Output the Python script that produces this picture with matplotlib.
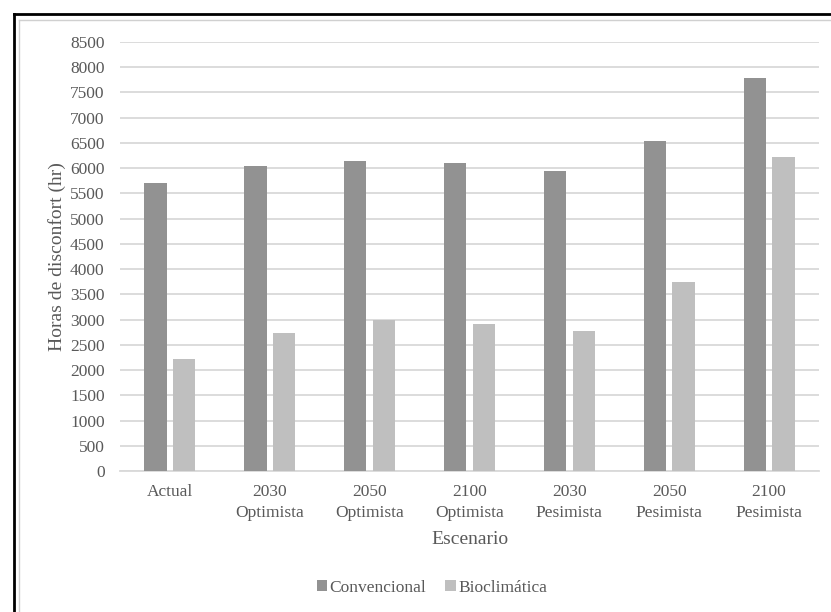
import matplotlib
matplotlib.use("Agg")
import matplotlib.pyplot as plt
import numpy as np
from matplotlib.patches import Patch
from matplotlib.lines import Line2D

categories = ["Actual", "2030\nOptimista", "2050\nOptimista", "2100\nOptimista",
              "2030\nPesimista", "2050\nPesimista", "2100\nPesimista"]
convencional = [5700, 6050, 6150, 6100, 5950, 6530, 7780]
bioclimatica = [2220, 2730, 3000, 2910, 2780, 3750, 6220]
series_names = ["Convencional", "Bioclimática"]
yticks = list(range(0, 8501, 500))

plt.rcParams['font.family'] = ['Liberation Serif', 'DejaVu Serif']
txt = "#595959"
c_conv = "#929292"
c_bio = "#bfbfbf"
grid_c = "#d9d9d9"

fig = plt.figure(figsize=(8.31, 6.12), dpi=100)
ax = fig.add_axes([120/831, 1-471/612, 699/831, 429/612])

x = np.arange(len(categories))
w = 0.224
off = 0.144
ax.bar(x - off, convencional, w, color=c_conv, zorder=3)
ax.bar(x + off, bioclimatica, w, color=c_bio, zorder=3)

ax.set_xlim(-0.5, len(categories) - 0.5)
ax.set_ylim(0, 8500)
ax.set_yticks(yticks)
ax.set_yticklabels([str(v) for v in yticks])
ax.set_xticks(x)
ax.set_xticklabels(categories, linespacing=1.45)
ax.yaxis.grid(True, color=grid_c, linewidth=1.3, zorder=0)
ax.set_axisbelow(True)
for s in ["top", "right", "left"]:
    ax.spines[s].set_visible(False)
ax.spines["bottom"].set_color(grid_c)
ax.spines["bottom"].set_linewidth(1.3)
ax.tick_params(axis="both", length=0, labelsize=12.5, colors=txt)
ax.tick_params(axis="y", pad=11)
ax.tick_params(axis="x", pad=9)

ax.set_ylabel("Horas de disconfort (hr)", fontsize=14, color=txt)
ax.yaxis.set_label_coords((57 - 120) / 699, 0.5)
ax.yaxis.label.set_va("center")
ax.set_xlabel("Escenario", fontsize=14, color=txt)
ax.xaxis.set_label_coords(0.5, -(540 - 471) / 429)
ax.xaxis.label.set_va("center")

handles = [Patch(facecolor=c_conv, edgecolor="none"), Patch(facecolor=c_bio, edgecolor="none")]
fig.legend(handles, series_names, loc="center", bbox_to_anchor=(432/831, 1-588/612),
           ncol=2, frameon=False, fontsize=12.5, labelcolor=txt,
           handlelength=0.6, handleheight=0.6, handletextpad=0.15, columnspacing=1.1)

# outer frame (left/top visible)
fig.add_artist(Line2D([14/831, 14/831], [0, 1-14/612], transform=fig.transFigure, color="black", lw=2))
fig.add_artist(Line2D([14/831, 1], [1-14/612, 1-14/612], transform=fig.transFigure, color="black", lw=2))
fig.add_artist(Line2D([19/831, 19/831], [0, 1-20/612], transform=fig.transFigure, color="#d0d0d0", lw=1))
fig.add_artist(Line2D([19/831, 1], [1-20/612, 1-20/612], transform=fig.transFigure, color="#d0d0d0", lw=1))

fig.savefig("out.png", dpi=100)
